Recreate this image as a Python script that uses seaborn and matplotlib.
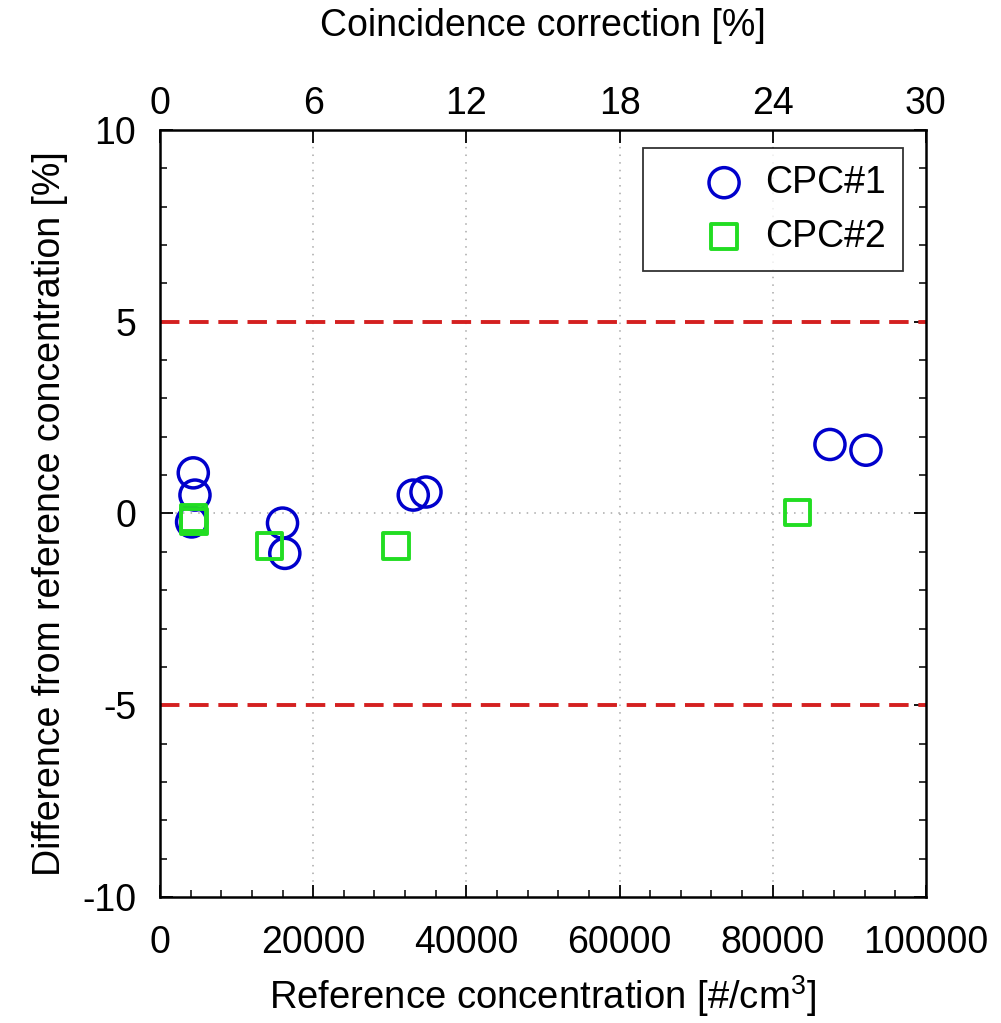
import numpy as np
import pandas as pd
import matplotlib
matplotlib.use("Agg")
import matplotlib.pyplot as plt
from matplotlib.ticker import MultipleLocator
import seaborn as sns

# Data
cpc1_x = [4350, 4570, 4130, 16000, 16300, 33070, 34730, 87470, 92170]
cpc1_y = [1.06, 0.48, -0.22, -0.25, -1.04, 0.48, 0.56, 1.80, 1.65]
cpc2_x = [4350, 4450, 14270, 30810, 83250]
cpc2_y = [-0.12, -0.20, -0.85, -0.85, 0.02]
series_names = ["CPC#1", "CPC#2"]
limit_lines = [5, -5]
top_ticks = [0, 6, 12, 18, 24, 30]

sns.set_theme(style="white")
plt.rcParams['font.family'] = ['Liberation Sans', 'DejaVu Sans']
plt.rcParams['mathtext.fontset'] = 'custom'
plt.rcParams['mathtext.rm'] = 'Liberation Sans'
plt.rcParams['axes.unicode_minus'] = False
plt.rcParams['text.color'] = 'black'
plt.rcParams['axes.labelcolor'] = 'black'
plt.rcParams['xtick.color'] = 'black'
plt.rcParams['ytick.color'] = 'black'

df = pd.concat([
    pd.DataFrame({"x": cpc1_x, "y": cpc1_y, "series": series_names[0]}),
    pd.DataFrame({"x": cpc2_x, "y": cpc2_y, "series": series_names[1]}),
])

fig = plt.figure(figsize=(10.01, 10.23), dpi=100)
ax = fig.add_axes([0.1598, 0.1232, 0.7652, 0.7497])

# grid
for gx in [20000, 40000, 60000, 80000]:
    ax.axvline(gx, color="#a8a8a8", lw=1.1, ls=(0, (1, 4)), zorder=0)
ax.axhline(0, color="#a8a8a8", lw=1.1, ls=(0, (1, 4)), zorder=0)

for ly in limit_lines:
    ax.axhline(ly, color="#d42020", lw=2.8, ls=(0, (5, 2.5)), zorder=1)

sns.scatterplot(data=df[df.series == series_names[0]], x="x", y="y", ax=ax,
                marker="o", s=470, facecolor="none", edgecolor="#0000cc",
                linewidth=2.5, label=series_names[0], zorder=3)
sns.scatterplot(data=df[df.series == series_names[1]], x="x", y="y", ax=ax,
                marker="s", s=330, facecolor="none", edgecolor="#22dd22",
                linewidth=2.8, label=series_names[1], zorder=4)

ax.set_xlim(0, 100000)
ax.set_ylim(-10, 10)
ax.set_xticks([0, 20000, 40000, 60000, 80000, 100000])
ax.set_yticks([-10, -5, 0, 5, 10])
ax.xaxis.set_minor_locator(MultipleLocator(4000))
ax.yaxis.set_minor_locator(MultipleLocator(1))
ax.tick_params(axis="both", which="major", direction="in", length=9, width=1.3,
               labelsize=27, colors="black")
ax.tick_params(axis="x", which="major", pad=20)
ax.tick_params(axis="y", which="major", pad=17)
ax.tick_params(axis="both", which="minor", direction="in", length=5, width=1.1)
ax.tick_params(axis="y", which="both", right=True, left=True)
ax.tick_params(axis="x", which="both", bottom=True, top=False)
for s in ax.spines.values():
    s.set_color("black")
    s.set_linewidth(1.8)

ax.set_xlabel("Reference concentration [#/cm$^3$]", fontsize=27.5, labelpad=9)
ax.set_ylabel("Difference from reference concentration [%]", fontsize=27, labelpad=10)

ax2 = ax.twiny()
ax2.set_xlim(0, 30)
ax2.set_xticks(top_ticks)
ax2.tick_params(axis="x", which="major", direction="in", length=9, width=1.3,
                labelsize=27, pad=6, colors="black")
ax2.set_xlabel("Coincidence correction [%]", fontsize=27, labelpad=36)
ax2.grid(False)
for s in ax2.spines.values():
    s.set_visible(False)

leg = ax.legend(loc="upper right", bbox_to_anchor=(0.97, 0.977), fontsize=27,
                frameon=True, fancybox=False, edgecolor="black",
                borderpad=0.45, handletextpad=-0.6, labelspacing=0.48,
                handlelength=3.4, borderaxespad=0)
leg.get_frame().set_linewidth(1.3)

fig.savefig("out.png", dpi=100, facecolor="white")
